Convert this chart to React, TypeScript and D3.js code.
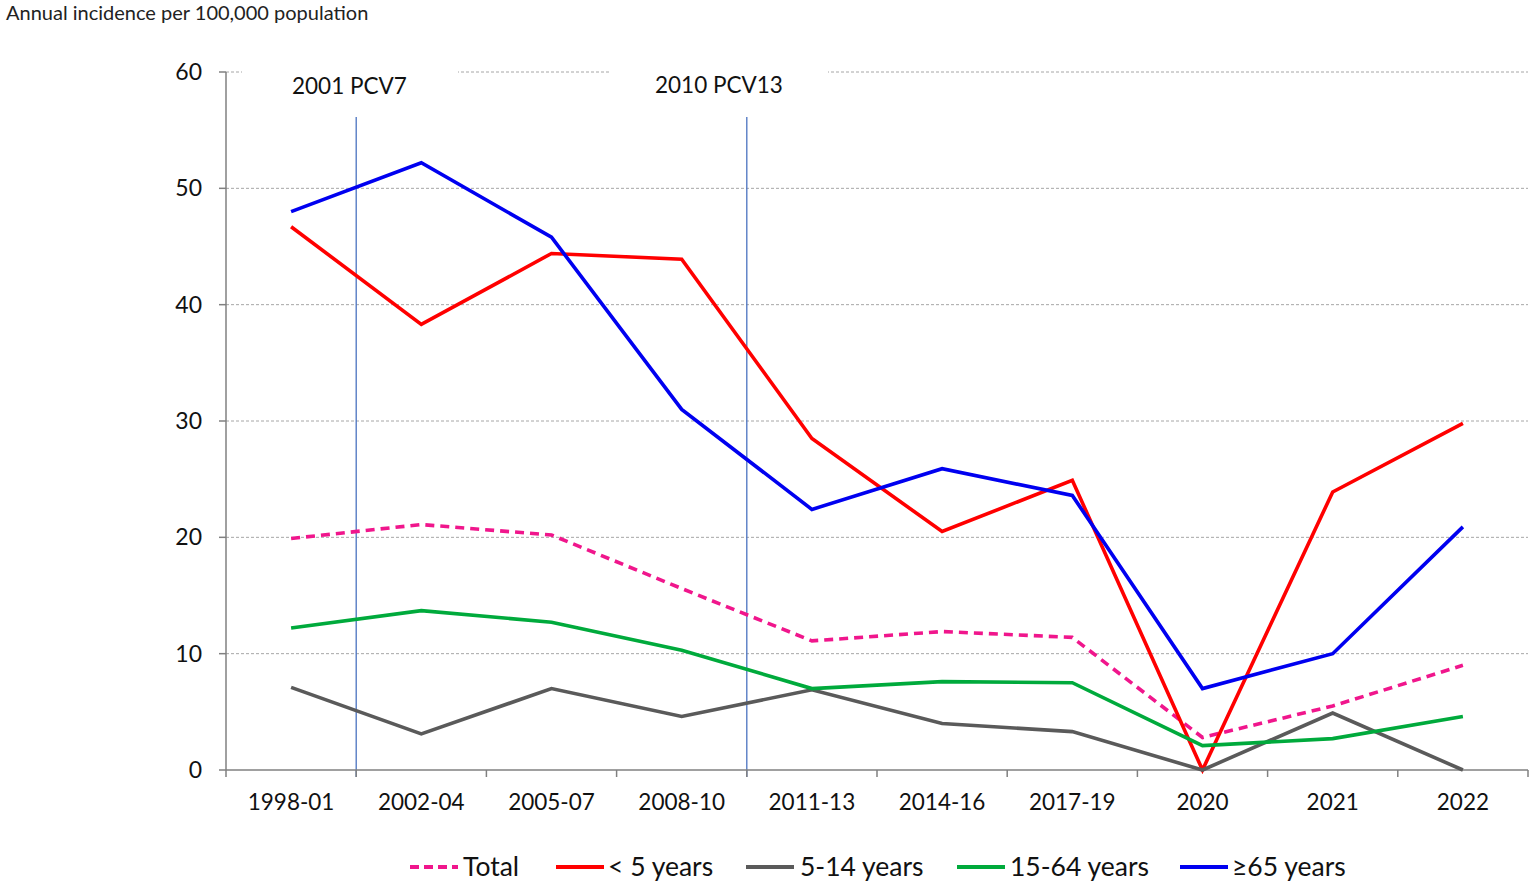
import React from "react";
import * as d3 from "d3";

const categories = ["1998-01", "2002-04", "2005-07", "2008-10", "2011-13", "2014-16", "2017-19", "2020", "2021", "2022"];
const total = [19.9, 21.1, 20.2, 15.6, 11.1, 11.9, 11.4, 2.8, 5.5, 9.0];
const under5 = [46.7, 38.3, 44.4, 43.9, 28.5, 20.5, 24.9, 0, 23.9, 29.8];
const age5to14 = [7.1, 3.1, 7.0, 4.6, 6.9, 4.0, 3.3, 0, 4.9, 0];
const age15to64 = [12.2, 13.7, 12.7, 10.3, 7.0, 7.6, 7.5, 2.1, 2.7, 4.6];
const age65plus = [48.0, 52.2, 45.8, 31.0, 22.4, 25.9, 23.6, 7.0, 10.0, 20.9];
const yTicks = [0, 10, 20, 30, 40, 50, 60];
const vaccineEvents = [
  { label: "2001 PCV7", afterIndex: 0 },
  { label: "2010 PCV13", afterIndex: 3 },
];

const series = [
  { name: "Total", values: total, color: "#F0168C", dash: "9,6" },
  { name: "< 5 years", values: under5, color: "#FF0000", dash: "" },
  { name: "5-14 years", values: age5to14, color: "#5A5A5A", dash: "" },
  { name: "15-64 years", values: age15to64, color: "#00AA3C", dash: "" },
  { name: "\u226565 years", values: age65plus, color: "#0000F0", dash: "" },
];

const legendPos = [
  { lx: 410, tx: 463 },
  { lx: 556, tx: 608 },
  { lx: 746, tx: 800 },
  { lx: 957, tx: 1010 },
  { lx: 1180, tx: 1232 },
];

const FONT = "Lato, 'Open Sans', sans-serif";

export default function App() {
  const W = 1536, H = 887;
  const left = 226, right = 1528, top = 72, bottom = 770;
  const x = d3.scaleBand<string>().domain(categories).range([left, right]);
  const y = d3.scaleLinear().domain([0, 60]).range([bottom, top]);
  const cx = (c: string) => (x(c) as number) + x.bandwidth() / 2;
  const line = d3.line<number>().x((_, i) => cx(categories[i])).y((v) => y(v));
  const boundaries = d3.range(categories.length + 1).map((i) => left + i * x.bandwidth());

  return (
    <svg width={W} height={H} style={{ position: "absolute", left: 0, top: 0, background: "#fff" }}>
      <rect x={0} y={0} width={W} height={H} fill="#fff" />
      <text x={6} y={20} fontFamily={FONT} fontSize={20} fill="#222">Annual incidence per 100,000 population</text>

      {yTicks.filter((t) => t > 0).map((t) => (
        <line key={t} x1={left} x2={right} y1={y(t)} y2={y(t)} stroke="#A6A6A6" strokeWidth={1} strokeDasharray="3,2" />
      ))}

      {vaccineEvents.map((e) => {
        const bx = boundaries[e.afterIndex + 1];
        return <line key={e.label} x1={bx} x2={bx} y1={117} y2={777} stroke="#4A72C0" strokeWidth={1.3} />;
      })}
      <rect x={242} y={62} width={216} height={40} fill="#fff" />
      <rect x={610} y={62} width={218} height={40} fill="#fff" />
      <text x={292} y={94} fontFamily={FONT} fontSize={22.5} fill="#111">{vaccineEvents[0].label}</text>
      <text x={655} y={93} fontFamily={FONT} fontSize={22.5} fill="#111">{vaccineEvents[1].label}</text>

      <line x1={left} x2={left} y1={top} y2={bottom} stroke="#808080" strokeWidth={1.5} />
      {yTicks.map((t) => (
        <g key={t}>
          <line x1={left - 7} x2={left} y1={y(t)} y2={y(t)} stroke="#808080" strokeWidth={1.5} />
          <text x={202} y={y(t)} dy="0.35em" textAnchor="end" fontFamily={FONT} fontSize={23} fill="#111">{t}</text>
        </g>
      ))}

      <line x1={left} x2={right} y1={bottom} y2={bottom} stroke="#808080" strokeWidth={1.5} />
      {boundaries.map((b, i) => (
        <line key={i} x1={b} x2={b} y1={bottom} y2={bottom + 7} stroke="#808080" strokeWidth={1.5} />
      ))}
      {categories.map((c) => (
        <text key={c} x={cx(c)} y={802} dy="0.35em" textAnchor="middle" fontFamily={FONT} fontSize={22.5} fill="#111">{c}</text>
      ))}

      {series.map((s) => (
        <path key={s.name} d={line(s.values) || ""} fill="none" stroke={s.color} strokeWidth={3.6}
          strokeDasharray={s.dash || undefined} strokeLinejoin="miter" />
      ))}

      {series.map((s, i) => (
        <g key={s.name}>
          <line x1={legendPos[i].lx} x2={legendPos[i].lx + 48} y1={867} y2={867} stroke={s.color} strokeWidth={3.8}
            strokeDasharray={s.dash ? "9,5" : undefined} />
          <text x={legendPos[i].tx} y={867} dy="0.35em" fontFamily={FONT} fontSize={26.5} fill="#111">{s.name}</text>
        </g>
      ))}
    </svg>
  );
}
